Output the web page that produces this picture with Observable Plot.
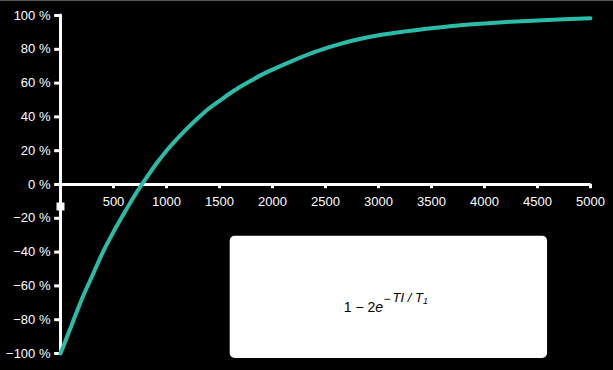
<!DOCTYPE html>
<html>
<head>
<meta charset="utf-8">
<script src="https://cdn.jsdelivr.net/npm/d3@7"></script>
<script src="https://cdn.jsdelivr.net/npm/@observablehq/plot@0.6"></script>
<style>
  html, body { margin: 0; padding: 0; background: #000; }
  #chart svg { display: block; }
</style>
</head>
<body>
<div id="chart"></div>
<script>
// Inversion time TI (ms) and signal (fraction of M0)
const times  = [0, 100, 200, 300, 400, 500, 600, 700, 800, 900, 1000, 1100, 1200, 1300, 1400, 1500, 1600, 1700, 1800, 1900, 2000, 2200, 2400, 2600, 2800, 3000, 3250, 3500, 3750, 4000, 4250, 4500, 4750, 5000];
const values = [-1.00, -0.84, -0.68, -0.54, -0.40, -0.28, -0.17, -0.065, 0.03, 0.12, 0.20, 0.27, 0.335, 0.395, 0.45, 0.495, 0.54, 0.58, 0.615, 0.65, 0.68, 0.735, 0.785, 0.825, 0.858, 0.883, 0.906, 0.925, 0.941, 0.953, 0.963, 0.971, 0.978, 0.984];

const xTicks = [500, 1000, 1500, 2000, 2500, 3000, 3500, 4000, 4500, 5000];
const yTicks = [-1, -0.8, -0.6, -0.4, -0.2, 0, 0.2, 0.4, 0.6, 0.8, 1];
const yTickLabels = ["−100 %", "−80 %", "−60 %", "−40 %", "−20 %", "0 %", "20 %", "40 %", "60 %", "80 %", "100 %"];
const axisBreak = [-0.13];

const data = times.map((t, i) => ({t, v: values[i]}));
const yLab = yTicks.map((y, i) => ({y, label: yTickLabels[i]}));

const WHITE = "#ffffff";
const TEAL = "#2bbca8";

const plot = Plot.plot({
  width: 613,
  height: 370,
  marginLeft: 60,
  marginRight: 23,
  marginTop: 15,
  marginBottom: 17,
  style: {background: "#000", color: WHITE, fontFamily: "'Liberation Sans', Arial, sans-serif", fontSize: "13px"},
  x: {domain: [0, 5000], axis: null},
  y: {domain: [-1, 1], axis: null},
  marks: [
    // legend box
    Plot.rect([0], {x1: 1601, x2: 4595, y1: -1.03, y2: -0.306, fill: WHITE, rx: 5, ry: 5}),
    // y axis line and ticks
    Plot.ruleX([0], {y1: -1, y2: 1, stroke: WHITE, strokeWidth: 3, strokeLinecap: "round"}),
    Plot.ruleY(yTicks, {y: d => d, x1: -55, x2: 0, stroke: WHITE, strokeWidth: 3}),
    Plot.text(yLab, {x: 0, y: "y", text: "label", textAnchor: "end", dx: -10, fill: WHITE, fontSize: 13}),
    Plot.dot(axisBreak, {x: 0, y: d => d, symbol: "square", r: 4.5, fill: WHITE, stroke: null}),
    // x axis at y = 0
    Plot.ruleY([0], {x1: 0, x2: 5000, stroke: WHITE, strokeWidth: 3, strokeLinecap: "round"}),
    Plot.ruleX(xTicks, {x: d => d, y1: 0, y2: -0.025, stroke: WHITE, strokeWidth: 3}),
    Plot.text(xTicks, {x: d => d, y: 0, text: d => String(d), dy: 17, fill: WHITE, fontSize: 13}),
    // curve
    Plot.line(data, {x: "t", y: "v", stroke: TEAL, strokeWidth: 4, strokeLinecap: "round", strokeLinejoin: "round", curve: "monotone-x"})
  ]
});

document.getElementById("chart").appendChild(plot);

// formula inside the box (one text element with tspans)
(function () {
  const sx = plot.scale("x"), sy = plot.scale("y");
  const px = v => sx.range[0] + (v - sx.domain[0]) / (sx.domain[1] - sx.domain[0]) * (sx.range[1] - sx.range[0]);
  const py = v => sy.range[0] + (v - sy.domain[0]) / (sy.domain[1] - sy.domain[0]) * (sy.range[1] - sy.range[0]);
  const bx = px(1601), by = py(-0.306);
  const svg = d3.select(plot);
  const t = svg.append("text").attr("fill", "#000").attr("text-anchor", "start")
    .attr("font-family", "'Liberation Sans', Arial, sans-serif")
    .attr("x", bx + 114).attr("y", by + 76).attr("font-size", 14);
  t.append("tspan").text("1 − 2");
  t.append("tspan").attr("font-style", "italic").text("e");
  t.append("tspan").attr("font-size", 12).attr("dx", 0.5).attr("dy", -9).text("−");
  t.append("tspan").attr("font-size", 13).attr("font-style", "italic").attr("dx", 2).attr("dy", -1).text("TI / T");
  t.append("tspan").attr("font-size", 9).attr("font-style", "italic").attr("dy", 2).text("1");
  // thin frame edge at top
  svg.append("line").attr("x1", 0).attr("x2", 613).attr("y1", 0.5).attr("y2", 0.5).attr("stroke", "#555");
})();
</script>
</body>
</html>
